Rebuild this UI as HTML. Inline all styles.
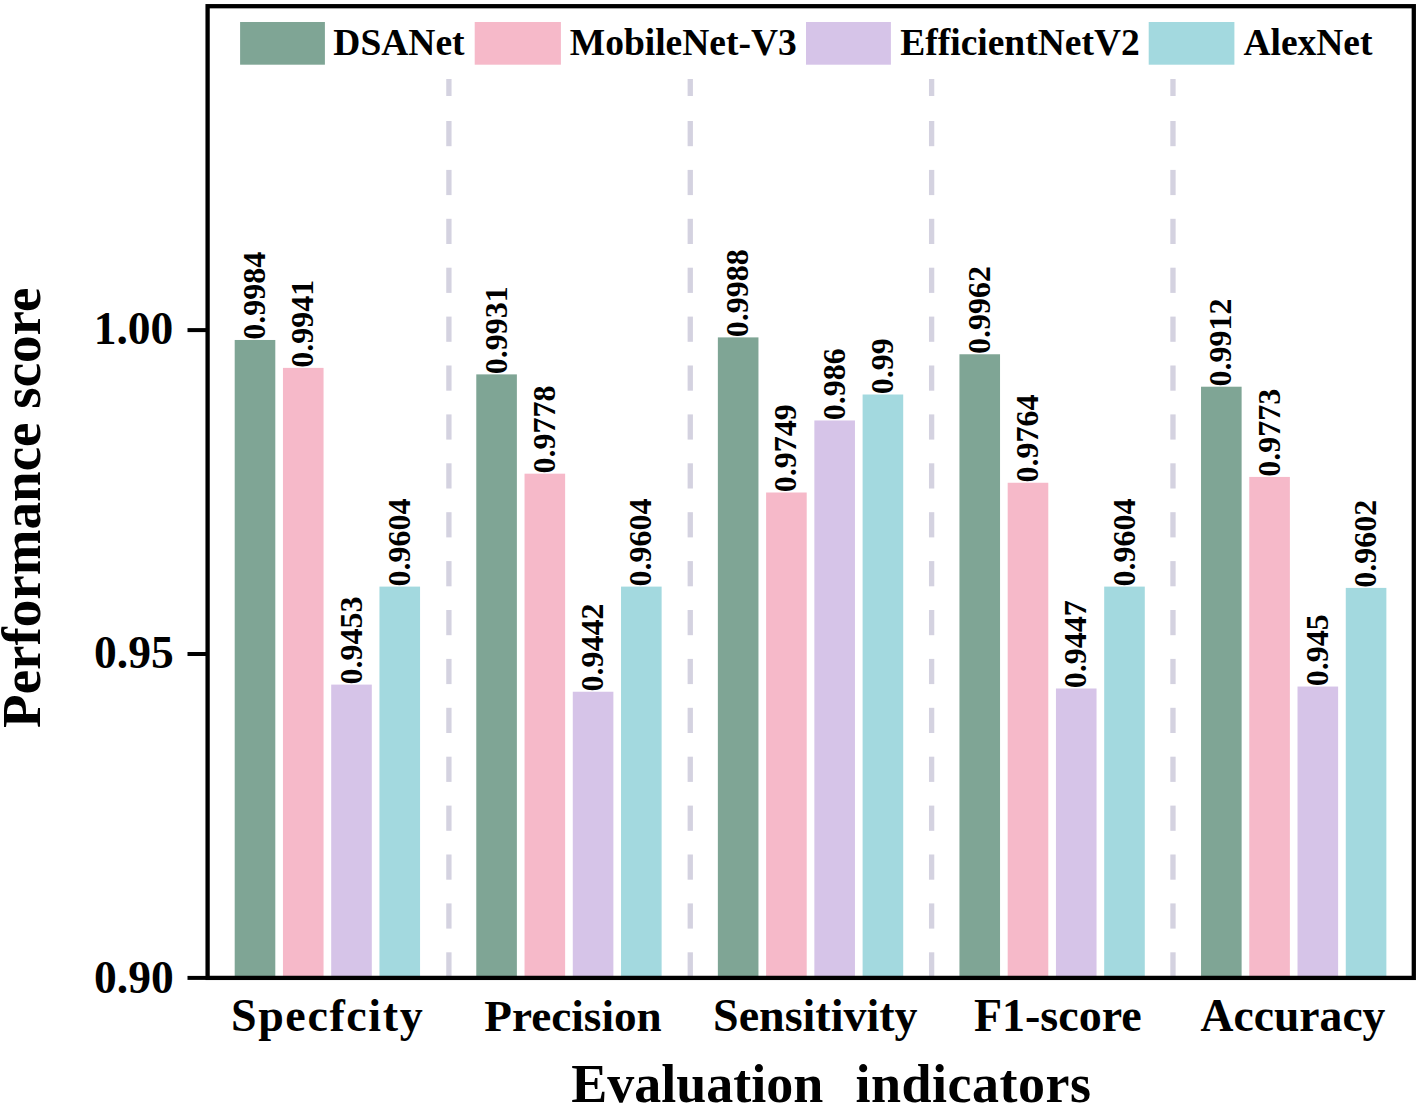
<!DOCTYPE html>
<html><head><meta charset="utf-8"><style>
html,body{margin:0;padding:0;background:#fff;}
svg{display:block;}
text{fill:#000;}
</style></head><body>
<svg width="1417" height="1112" viewBox="0 0 1417 1112">
<rect width="1417" height="1112" fill="#fff"/>
<rect x="446.25" y="79" width="5.3" height="17" fill="#D4D2E0"/>
<rect x="446.25" y="121.00" width="5.3" height="25.20" fill="#D4D2E0"/>
<rect x="446.25" y="169.90" width="5.3" height="25.20" fill="#D4D2E0"/>
<rect x="446.25" y="218.80" width="5.3" height="25.20" fill="#D4D2E0"/>
<rect x="446.25" y="267.70" width="5.3" height="25.20" fill="#D4D2E0"/>
<rect x="446.25" y="316.60" width="5.3" height="25.20" fill="#D4D2E0"/>
<rect x="446.25" y="365.50" width="5.3" height="25.20" fill="#D4D2E0"/>
<rect x="446.25" y="414.40" width="5.3" height="25.20" fill="#D4D2E0"/>
<rect x="446.25" y="463.30" width="5.3" height="25.20" fill="#D4D2E0"/>
<rect x="446.25" y="512.20" width="5.3" height="25.20" fill="#D4D2E0"/>
<rect x="446.25" y="561.10" width="5.3" height="25.20" fill="#D4D2E0"/>
<rect x="446.25" y="610.00" width="5.3" height="25.20" fill="#D4D2E0"/>
<rect x="446.25" y="658.90" width="5.3" height="25.20" fill="#D4D2E0"/>
<rect x="446.25" y="707.80" width="5.3" height="25.20" fill="#D4D2E0"/>
<rect x="446.25" y="756.70" width="5.3" height="25.20" fill="#D4D2E0"/>
<rect x="446.25" y="805.60" width="5.3" height="25.20" fill="#D4D2E0"/>
<rect x="446.25" y="854.50" width="5.3" height="25.20" fill="#D4D2E0"/>
<rect x="446.25" y="903.40" width="5.3" height="25.20" fill="#D4D2E0"/>
<rect x="446.25" y="952.30" width="5.3" height="23.70" fill="#D4D2E0"/>
<rect x="687.61" y="79" width="5.3" height="17" fill="#D4D2E0"/>
<rect x="687.61" y="121.00" width="5.3" height="25.20" fill="#D4D2E0"/>
<rect x="687.61" y="169.90" width="5.3" height="25.20" fill="#D4D2E0"/>
<rect x="687.61" y="218.80" width="5.3" height="25.20" fill="#D4D2E0"/>
<rect x="687.61" y="267.70" width="5.3" height="25.20" fill="#D4D2E0"/>
<rect x="687.61" y="316.60" width="5.3" height="25.20" fill="#D4D2E0"/>
<rect x="687.61" y="365.50" width="5.3" height="25.20" fill="#D4D2E0"/>
<rect x="687.61" y="414.40" width="5.3" height="25.20" fill="#D4D2E0"/>
<rect x="687.61" y="463.30" width="5.3" height="25.20" fill="#D4D2E0"/>
<rect x="687.61" y="512.20" width="5.3" height="25.20" fill="#D4D2E0"/>
<rect x="687.61" y="561.10" width="5.3" height="25.20" fill="#D4D2E0"/>
<rect x="687.61" y="610.00" width="5.3" height="25.20" fill="#D4D2E0"/>
<rect x="687.61" y="658.90" width="5.3" height="25.20" fill="#D4D2E0"/>
<rect x="687.61" y="707.80" width="5.3" height="25.20" fill="#D4D2E0"/>
<rect x="687.61" y="756.70" width="5.3" height="25.20" fill="#D4D2E0"/>
<rect x="687.61" y="805.60" width="5.3" height="25.20" fill="#D4D2E0"/>
<rect x="687.61" y="854.50" width="5.3" height="25.20" fill="#D4D2E0"/>
<rect x="687.61" y="903.40" width="5.3" height="25.20" fill="#D4D2E0"/>
<rect x="687.61" y="952.30" width="5.3" height="23.70" fill="#D4D2E0"/>
<rect x="928.97" y="79" width="5.3" height="17" fill="#D4D2E0"/>
<rect x="928.97" y="121.00" width="5.3" height="25.20" fill="#D4D2E0"/>
<rect x="928.97" y="169.90" width="5.3" height="25.20" fill="#D4D2E0"/>
<rect x="928.97" y="218.80" width="5.3" height="25.20" fill="#D4D2E0"/>
<rect x="928.97" y="267.70" width="5.3" height="25.20" fill="#D4D2E0"/>
<rect x="928.97" y="316.60" width="5.3" height="25.20" fill="#D4D2E0"/>
<rect x="928.97" y="365.50" width="5.3" height="25.20" fill="#D4D2E0"/>
<rect x="928.97" y="414.40" width="5.3" height="25.20" fill="#D4D2E0"/>
<rect x="928.97" y="463.30" width="5.3" height="25.20" fill="#D4D2E0"/>
<rect x="928.97" y="512.20" width="5.3" height="25.20" fill="#D4D2E0"/>
<rect x="928.97" y="561.10" width="5.3" height="25.20" fill="#D4D2E0"/>
<rect x="928.97" y="610.00" width="5.3" height="25.20" fill="#D4D2E0"/>
<rect x="928.97" y="658.90" width="5.3" height="25.20" fill="#D4D2E0"/>
<rect x="928.97" y="707.80" width="5.3" height="25.20" fill="#D4D2E0"/>
<rect x="928.97" y="756.70" width="5.3" height="25.20" fill="#D4D2E0"/>
<rect x="928.97" y="805.60" width="5.3" height="25.20" fill="#D4D2E0"/>
<rect x="928.97" y="854.50" width="5.3" height="25.20" fill="#D4D2E0"/>
<rect x="928.97" y="903.40" width="5.3" height="25.20" fill="#D4D2E0"/>
<rect x="928.97" y="952.30" width="5.3" height="23.70" fill="#D4D2E0"/>
<rect x="1170.33" y="79" width="5.3" height="17" fill="#D4D2E0"/>
<rect x="1170.33" y="121.00" width="5.3" height="25.20" fill="#D4D2E0"/>
<rect x="1170.33" y="169.90" width="5.3" height="25.20" fill="#D4D2E0"/>
<rect x="1170.33" y="218.80" width="5.3" height="25.20" fill="#D4D2E0"/>
<rect x="1170.33" y="267.70" width="5.3" height="25.20" fill="#D4D2E0"/>
<rect x="1170.33" y="316.60" width="5.3" height="25.20" fill="#D4D2E0"/>
<rect x="1170.33" y="365.50" width="5.3" height="25.20" fill="#D4D2E0"/>
<rect x="1170.33" y="414.40" width="5.3" height="25.20" fill="#D4D2E0"/>
<rect x="1170.33" y="463.30" width="5.3" height="25.20" fill="#D4D2E0"/>
<rect x="1170.33" y="512.20" width="5.3" height="25.20" fill="#D4D2E0"/>
<rect x="1170.33" y="561.10" width="5.3" height="25.20" fill="#D4D2E0"/>
<rect x="1170.33" y="610.00" width="5.3" height="25.20" fill="#D4D2E0"/>
<rect x="1170.33" y="658.90" width="5.3" height="25.20" fill="#D4D2E0"/>
<rect x="1170.33" y="707.80" width="5.3" height="25.20" fill="#D4D2E0"/>
<rect x="1170.33" y="756.70" width="5.3" height="25.20" fill="#D4D2E0"/>
<rect x="1170.33" y="805.60" width="5.3" height="25.20" fill="#D4D2E0"/>
<rect x="1170.33" y="854.50" width="5.3" height="25.20" fill="#D4D2E0"/>
<rect x="1170.33" y="903.40" width="5.3" height="25.20" fill="#D4D2E0"/>
<rect x="1170.33" y="952.30" width="5.3" height="23.70" fill="#D4D2E0"/>
<rect x="234.70" y="339.98" width="40.6" height="638.02" fill="#7FA595"/>
<text transform="translate(265.08,339.78) rotate(-90)" font-family="Liberation Serif" font-weight="bold" font-size="32">0.9984</text>
<rect x="282.95" y="367.89" width="40.6" height="610.11" fill="#F6B9C9"/>
<text transform="translate(313.33,367.69) rotate(-90)" font-family="Liberation Serif" font-weight="bold" font-size="32">0.9941</text>
<rect x="331.20" y="684.60" width="40.6" height="293.40" fill="#D6C4E8"/>
<text transform="translate(361.58,684.40) rotate(-90)" font-family="Liberation Serif" font-weight="bold" font-size="32">0.9453</text>
<rect x="379.45" y="586.60" width="40.6" height="391.40" fill="#A3D9DF"/>
<text transform="translate(409.83,586.40) rotate(-90)" font-family="Liberation Serif" font-weight="bold" font-size="32">0.9604</text>
<rect x="476.28" y="374.38" width="40.6" height="603.62" fill="#7FA595"/>
<text transform="translate(506.66,374.18) rotate(-90)" font-family="Liberation Serif" font-weight="bold" font-size="32">0.9931</text>
<rect x="524.53" y="473.68" width="40.6" height="504.32" fill="#F6B9C9"/>
<text transform="translate(554.91,473.48) rotate(-90)" font-family="Liberation Serif" font-weight="bold" font-size="32">0.9778</text>
<rect x="572.78" y="691.74" width="40.6" height="286.26" fill="#D6C4E8"/>
<text transform="translate(603.16,691.54) rotate(-90)" font-family="Liberation Serif" font-weight="bold" font-size="32">0.9442</text>
<rect x="621.03" y="586.60" width="40.6" height="391.40" fill="#A3D9DF"/>
<text transform="translate(651.41,586.40) rotate(-90)" font-family="Liberation Serif" font-weight="bold" font-size="32">0.9604</text>
<rect x="717.86" y="337.39" width="40.6" height="640.61" fill="#7FA595"/>
<text transform="translate(748.24,337.19) rotate(-90)" font-family="Liberation Serif" font-weight="bold" font-size="32">0.9988</text>
<rect x="766.11" y="492.50" width="40.6" height="485.50" fill="#F6B9C9"/>
<text transform="translate(796.49,492.30) rotate(-90)" font-family="Liberation Serif" font-weight="bold" font-size="32">0.9749</text>
<rect x="814.36" y="420.46" width="40.6" height="557.54" fill="#D6C4E8"/>
<text transform="translate(844.74,420.26) rotate(-90)" font-family="Liberation Serif" font-weight="bold" font-size="32">0.986</text>
<rect x="862.61" y="394.50" width="40.6" height="583.50" fill="#A3D9DF"/>
<text transform="translate(892.99,394.30) rotate(-90)" font-family="Liberation Serif" font-weight="bold" font-size="32">0.99</text>
<rect x="959.44" y="354.26" width="40.6" height="623.74" fill="#7FA595"/>
<text transform="translate(989.82,354.06) rotate(-90)" font-family="Liberation Serif" font-weight="bold" font-size="32">0.9962</text>
<rect x="1007.69" y="482.76" width="40.6" height="495.24" fill="#F6B9C9"/>
<text transform="translate(1038.07,482.56) rotate(-90)" font-family="Liberation Serif" font-weight="bold" font-size="32">0.9764</text>
<rect x="1055.94" y="688.50" width="40.6" height="289.50" fill="#D6C4E8"/>
<text transform="translate(1086.32,688.30) rotate(-90)" font-family="Liberation Serif" font-weight="bold" font-size="32">0.9447</text>
<rect x="1104.19" y="586.60" width="40.6" height="391.40" fill="#A3D9DF"/>
<text transform="translate(1134.57,586.40) rotate(-90)" font-family="Liberation Serif" font-weight="bold" font-size="32">0.9604</text>
<rect x="1201.02" y="386.71" width="40.6" height="591.29" fill="#7FA595"/>
<text transform="translate(1231.40,386.51) rotate(-90)" font-family="Liberation Serif" font-weight="bold" font-size="32">0.9912</text>
<rect x="1249.27" y="476.92" width="40.6" height="501.08" fill="#F6B9C9"/>
<text transform="translate(1279.65,476.72) rotate(-90)" font-family="Liberation Serif" font-weight="bold" font-size="32">0.9773</text>
<rect x="1297.52" y="686.55" width="40.6" height="291.45" fill="#D6C4E8"/>
<text transform="translate(1327.90,686.35) rotate(-90)" font-family="Liberation Serif" font-weight="bold" font-size="32">0.945</text>
<rect x="1345.77" y="587.90" width="40.6" height="390.10" fill="#A3D9DF"/>
<text transform="translate(1376.15,587.70) rotate(-90)" font-family="Liberation Serif" font-weight="bold" font-size="32">0.9602</text>
<rect x="207.6" y="6.2" width="1206.2" height="971.7" fill="none" stroke="#000" stroke-width="4.3"/>
<rect x="187.5" y="975.90" width="20" height="4" fill="#000"/>
<rect x="187.5" y="652.00" width="20" height="4" fill="#000"/>
<rect x="187.5" y="328.10" width="20" height="4" fill="#000"/>
<text x="93.7" y="343.5" font-family="Liberation Serif" font-weight="bold" font-size="45.5">1.00</text>
<text x="94.0" y="667.7" font-family="Liberation Serif" font-weight="bold" font-size="45.5">0.95</text>
<text x="94.0" y="992.6" font-family="Liberation Serif" font-weight="bold" font-size="45.5">0.90</text>
<rect x="240.1" y="22" width="84.8" height="42.7" fill="#7FA595"/>
<rect x="474.7" y="22" width="86.2" height="42.7" fill="#F6B9C9"/>
<rect x="806.0" y="22" width="84.9" height="42.7" fill="#D6C4E8"/>
<rect x="1148.7" y="22" width="85.7" height="42.7" fill="#A3D9DF"/>
<text x="333.35" y="55" font-family="Liberation Serif" font-weight="bold" font-size="37.5">DSANet</text>
<text x="569.75" y="55" font-family="Liberation Serif" font-weight="bold" font-size="37.5">MobileNet-V3</text>
<text x="900.25" y="55" font-family="Liberation Serif" font-weight="bold" font-size="37.5">EfficientNetV2</text>
<text x="1243.4" y="55" font-family="Liberation Serif" font-weight="bold" font-size="37.5">AlexNet</text>
<text x="231.0" y="1031" font-family="Liberation Serif" font-weight="bold" font-size="46" letter-spacing="1.6">Specfcity</text>
<text x="484.3" y="1031" font-family="Liberation Serif" font-weight="bold" font-size="45.2" letter-spacing="0">Precision</text>
<text x="713.1" y="1031" font-family="Liberation Serif" font-weight="bold" font-size="46" letter-spacing="0">Sensitivity</text>
<text x="973.9" y="1031" font-family="Liberation Serif" font-weight="bold" font-size="46" letter-spacing="0">F1-score</text>
<text x="1200.6" y="1031" font-family="Liberation Serif" font-weight="bold" font-size="45.6" letter-spacing="0">Accuracy</text>
<text x="571.3" y="1102.3" font-family="Liberation Serif" font-weight="bold" font-size="54">Evaluation</text>
<text x="855.5" y="1102.3" font-family="Liberation Serif" font-weight="bold" font-size="54" letter-spacing="0.5">indicators</text>
<text transform="translate(40,727.9) rotate(-90)" font-family="Liberation Serif" font-weight="bold" font-size="55">Performance score</text>
</svg>
</body></html>
